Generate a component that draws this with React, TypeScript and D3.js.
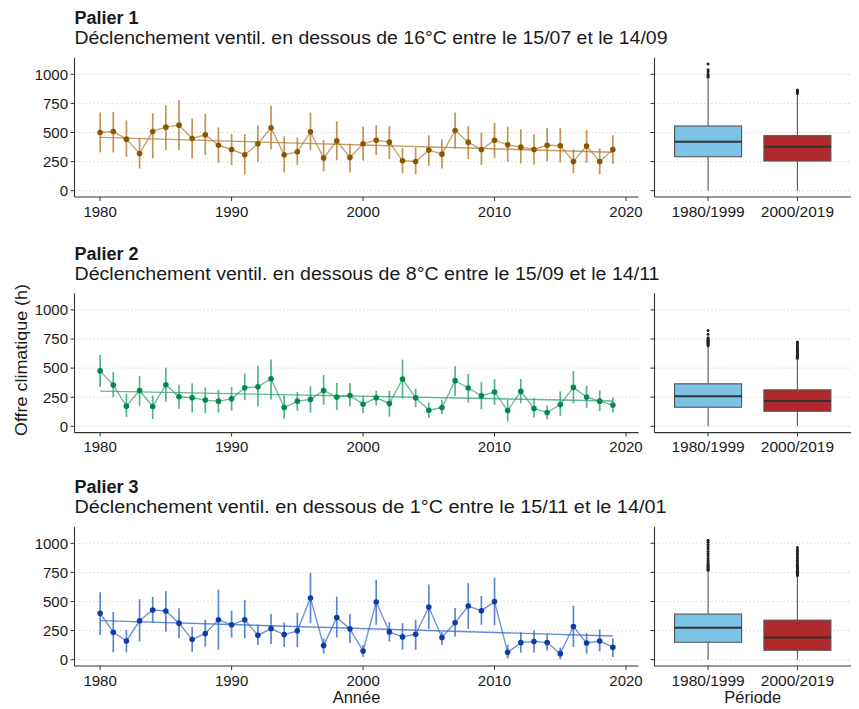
import React from "react";
import * as d3 from "d3";

const years = [1980,1981,1982,1983,1984,1985,1986,1987,1988,1989,1990,1991,1992,1993,1994,1995,1996,1997,1998,1999,2000,2001,2002,2003,2004,2005,2006,2007,2008,2009,2010,2011,2012,2013,2014,2015,2016,2017,2018,2019];
const xTicks = [1980, 1990, 2000, 2010, 2020];
const yTicks = [0, 250, 500, 750, 1000];
const periods = ["1980/1999", "2000/2019"];

const p1Mean = [500,509,443,320,509,546,563,449,480,391,354,309,403,540,309,334,506,280,429,286,403,434,417,257,251,349,314,517,417,354,434,394,374,354,391,386,251,383,251,354];
const p1Low = [329,329,291,191,277,349,349,277,306,240,220,140,249,357,157,220,349,166,263,157,260,306,271,149,140,214,191,363,271,220,283,249,234,226,254,243,151,240,140,231];
const p1High = [671,677,603,449,666,734,777,620,660,543,486,486,560,729,466,457,671,434,597,406,551,563,557,366,371,477,440,671,557,500,583,551,529,486,537,537,354,520,363,477];
const p1Trend = [458, 330];

const p2Mean = [476,354,173,308,170,357,254,245,225,216,236,331,340,409,161,216,231,308,251,265,190,245,196,406,245,138,161,392,329,262,294,135,300,153,118,187,334,251,216,182];
const p2Low = [337,251,81,176,63,210,150,118,112,118,135,225,170,231,66,135,118,184,141,170,115,179,84,236,164,72,101,262,205,147,184,40,199,75,61,89,199,159,130,118];
const p2High = [614,467,280,432,265,504,357,369,334,314,337,452,519,573,265,294,343,441,372,369,262,305,305,573,323,205,228,516,450,380,406,228,406,242,179,300,475,349,308,248];
const p2Trend = [302, 217];

const p3Mean = [398,236,161,334,427,418,314,173,225,343,300,343,210,268,216,248,530,121,363,265,75,496,239,196,219,452,190,317,461,421,499,63,147,156,147,52,285,144,161,107];
const p3Low = [213,63,63,156,317,242,184,69,112,86,190,184,127,135,110,107,314,52,190,141,23,300,156,86,86,265,127,199,265,300,297,12,61,61,78,3,110,52,72,23];
const p3High = [579,409,256,519,539,588,441,280,343,602,421,513,303,392,320,403,746,182,542,392,127,686,323,314,343,646,236,444,657,548,703,127,236,251,219,104,464,228,259,184];
const p3Trend = [336, 203];

// box stats: [lowWhisker, q1, median, q3, highWhisker]
const p1Box1 = [0, 292, 421, 556, 960];
const p1Box2 = [0, 255, 378, 473, 828];
const p1Out1 = [975, 988, 1000, 1022, 1040, 1088];
const p1Out2 = [835, 842, 850, 858, 865];
const p2Box1 = [0, 164, 259, 365, 686];
const p2Box2 = [0, 129, 218, 313, 578];
const p2Out1 = [692, 700, 708, 715, 722, 730, 738, 745, 752, 760, 790, 824];
const p2Out2 = [585, 592, 600, 608, 615, 622, 630, 640, 650, 660, 672, 685, 700, 712, 724];
const p3Box1 = [0, 150, 274, 392, 760];
const p3Box2 = [0, 81, 190, 340, 717];
const p3Out1 = [768, 775, 782, 790, 800, 810, 820, 835, 850, 870, 890, 910, 930, 950, 970, 990, 1010, 1026];
const p3Out2 = [724, 731, 738, 745, 752, 760, 770, 780, 790, 800, 812, 825, 840, 855, 870, 885, 900, 915, 930, 945, 963];

const W = 859, H = 709;
const FONT = "'Liberation Sans', Arial, sans-serif";
const TEXT = "#1a1a1a";
const AXIS = "#333333";

const panels = [
  { title: "Palier 1", subtitle: "Déclenchement ventil. en dessous de 16°C entre le 15/07 et le 14/09", subW: 593, zero: 190.7,
    mean: p1Mean, low: p1Low, high: p1High, trend: p1Trend, dot: "#8C5600", line: "#B07A2E",
    boxes: [p1Box1, p1Box2], outs: [p1Out1, p1Out2] },
  { title: "Palier 2", subtitle: "Déclenchement ventil. en dessous de 8°C entre le 15/09 et le 14/11", subW: 585, zero: 426.3,
    mean: p2Mean, low: p2Low, high: p2High, trend: p2Trend, dot: "#008A4E", line: "#2EA06B",
    boxes: [p2Box1, p2Box2], outs: [p2Out1, p2Out2] },
  { title: "Palier 3", subtitle: "Déclenchement ventil. en dessous de 1°C entre le 15/11 et le 14/01", subW: 592, zero: 659.7,
    mean: p3Mean, low: p3Low, high: p3High, trend: p3Trend, dot: "#0B3DA8", line: "#3466C4",
    boxes: [p3Box1, p3Box2], outs: [p3Out1, p3Out2] },
];
const boxFills = ["#7DC3E6", "#B0282A"];

const xLeft = 74.5, xRight = 638.5;
const bLeft = 654.5, bRight = 851;

function Panel({ p, idx }: { p: any; idx: number }) {
  const y = d3.scaleLinear().domain([0, 1000]).range([p.zero, p.zero - 116.4]);
  const top = y(1142), bottom = y(-54.4);
  const x = d3.scaleLinear().domain([1978.05, 2020.95]).range([xLeft, xRight]);
  const xb = d3.scaleLinear().domain([0.4, 2.6]).range([bLeft, bRight]);
  const line = d3.line<number>().x((_, i) => x(years[i])).y((v) => y(v));
  const isLast = idx === 2;
  const bw = (xb(1.375) - xb(1));
  return (
    <g>
      <text x={xLeft} y={top - 33.5} fontSize={18} fontWeight="bold" fill={TEXT} fontFamily={FONT}>{p.title}</text>
      <text x={xLeft} y={top - 13.5} fontSize={17.5} fill={TEXT} fontFamily={FONT} textLength={p.subW} lengthAdjust="spacingAndGlyphs">{p.subtitle}</text>
      {yTicks.map((t) => (
        <g key={"g" + t}>
          <line x1={xLeft} x2={xRight} y1={y(t)} y2={y(t)} stroke="#cfcfcf" strokeWidth={1} strokeDasharray="1.2 2.6" />
          <line x1={bLeft} x2={bRight} y1={y(t)} y2={y(t)} stroke="#cfcfcf" strokeWidth={1} strokeDasharray="1.2 2.6" />
        </g>
      ))}
      {years.map((yr, i) => (
        <line key={"e" + yr} x1={x(yr)} x2={x(yr)} y1={y(p.low[i])} y2={y(p.high[i])} stroke={p.line} strokeOpacity={0.8} strokeWidth={1.7} />
      ))}
      <line x1={x(years[0])} x2={x(years[years.length - 1])} y1={y(p.trend[0])} y2={y(p.trend[1])} stroke={p.line} strokeOpacity={0.75} strokeWidth={1.4} />
      <path d={line(p.mean) || ""} fill="none" stroke={p.line} strokeOpacity={0.7} strokeWidth={1.4} />
      {years.map((yr, i) => (
        <circle key={"c" + yr} cx={x(yr)} cy={y(p.mean[i])} r={2.8} fill={p.dot} />
      ))}
      <line x1={xLeft} x2={xLeft} y1={top} y2={bottom} stroke={AXIS} strokeWidth={1.1} />
      <line x1={xLeft} x2={xRight} y1={bottom} y2={bottom} stroke={AXIS} strokeWidth={1.1} />
      {yTicks.map((t) => (
        <g key={"yt" + t}>
          <line x1={xLeft - 4} x2={xLeft} y1={y(t)} y2={y(t)} stroke={AXIS} strokeWidth={1} />
          <text x={xLeft - 6.5} y={y(t) + 5.3} fontSize={15} textAnchor="end" fill={TEXT} fontFamily={FONT}>{t}</text>
        </g>
      ))}
      {xTicks.map((t) => (
        <g key={"xt" + t}>
          <line x1={x(t)} x2={x(t)} y1={bottom} y2={bottom + 4} stroke={AXIS} strokeWidth={1} />
          <text x={x(t)} y={bottom + 19.5} fontSize={15} textAnchor="middle" fill={TEXT} fontFamily={FONT}>{t}</text>
        </g>
      ))}
      {p.boxes.map((b: number[], k: number) => {
        const cx = xb(k + 1);
        return (
          <g key={"b" + k}>
            <line x1={cx} x2={cx} y1={y(b[0])} y2={y(b[1])} stroke="#555" strokeWidth={1.1} />
            <line x1={cx} x2={cx} y1={y(b[3])} y2={y(b[4])} stroke="#555" strokeWidth={1.1} />
            <rect x={cx - bw} y={y(b[3])} width={2 * bw} height={y(b[1]) - y(b[3])} fill={boxFills[k]} stroke="#555" strokeWidth={1.1} />
            <line x1={cx - bw} x2={cx + bw} y1={y(b[2])} y2={y(b[2])} stroke="#333" strokeWidth={2} />
            {p.outs[k].map((o: number, j: number) => (
              <circle key={j} cx={cx} cy={y(o)} r={1.5} fill="#222" />
            ))}
          </g>
        );
      })}
      <line x1={bLeft} x2={bLeft} y1={top} y2={bottom} stroke={AXIS} strokeWidth={1.1} />
      <line x1={bLeft} x2={bRight} y1={bottom} y2={bottom} stroke={AXIS} strokeWidth={1.1} />
      {yTicks.map((t) => (
        <line key={"byt" + t} x1={bLeft - 4} x2={bLeft} y1={y(t)} y2={y(t)} stroke={AXIS} strokeWidth={1} />
      ))}
      {periods.map((lab, k) => (
        <g key={lab}>
          <line x1={xb(k + 1)} x2={xb(k + 1)} y1={bottom} y2={bottom + 4} stroke={AXIS} strokeWidth={1} />
          <text x={xb(k + 1)} y={bottom + 19.5} fontSize={15.5} textAnchor="middle" fill={TEXT} fontFamily={FONT}>{lab}</text>
        </g>
      ))}
      {isLast && (
        <g>
          <text x={(xLeft + xRight) / 2} y={bottom + 37} fontSize={16.5} textAnchor="middle" fill={TEXT} fontFamily={FONT}>Année</text>
          <text x={(bLeft + bRight) / 2} y={bottom + 37} fontSize={16.5} textAnchor="middle" fill={TEXT} fontFamily={FONT}>Période</text>
        </g>
      )}
    </g>
  );
}

export default function App() {
  return (
    <svg width={W} height={H} style={{ position: "absolute", left: 0, top: 0, background: "#fff" }}>
      <rect width={W} height={H} fill="#fff" />
      {panels.map((p, i) => <Panel key={i} p={p} idx={i} />)}
      <text transform={`translate(27,360) rotate(-90)`} fontSize={16.5} textAnchor="middle" fill={TEXT} fontFamily={FONT} textLength={152} lengthAdjust="spacingAndGlyphs">Offre climatique (h)</text>
    </svg>
  );
}
